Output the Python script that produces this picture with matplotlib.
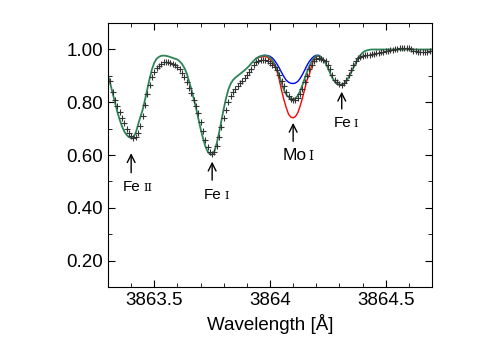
import numpy as np
import matplotlib
matplotlib.use("Agg")
import matplotlib.pyplot as plt
from matplotlib.ticker import MultipleLocator, FuncFormatter

plt.rcParams['font.family'] = ['Liberation Sans', 'DejaVu Sans']

# observed spectrum, 0.01 A steps from 3863.30 to 3864.70
wl_start = 3863.30
obs_flux = [
    0.900, 0.880, 0.840, 0.810, 0.785, 0.765, 0.740, 0.720, 0.700, 0.684,
    0.672, 0.665, 0.668, 0.685, 0.710, 0.747, 0.790, 0.830, 0.865, 0.895,
    0.915, 0.928, 0.938, 0.946, 0.951, 0.953, 0.952, 0.950, 0.946, 0.940,
    0.933, 0.926, 0.912, 0.895, 0.876, 0.855, 0.835, 0.810, 0.785, 0.760,
    0.725, 0.690, 0.658, 0.632, 0.612, 0.605, 0.610, 0.635, 0.670, 0.705,
    0.742, 0.770, 0.800, 0.822, 0.838, 0.852, 0.862, 0.872, 0.882, 0.893,
    0.903, 0.914, 0.926, 0.942, 0.951, 0.957, 0.960, 0.962, 0.960, 0.955,
    0.948, 0.942, 0.933, 0.922, 0.905, 0.880, 0.860, 0.838, 0.822, 0.813,
    0.808, 0.810, 0.818, 0.832, 0.852, 0.875, 0.900, 0.925, 0.943, 0.955,
    0.963, 0.966, 0.964, 0.960, 0.955, 0.942, 0.925, 0.905, 0.886, 0.875,
    0.868, 0.866, 0.872, 0.885, 0.902, 0.922, 0.940, 0.955, 0.966, 0.972,
    0.976, 0.978, 0.979, 0.980, 0.982, 0.984, 0.985, 0.987, 0.989, 0.991,
    0.993, 0.995, 0.997, 0.999, 1.000, 1.002, 1.004, 1.005, 1.006, 1.006,
    1.004, 1.000, 0.996, 0.993, 0.990, 0.990, 0.989, 0.990, 0.991, 0.993,
    0.995,
]

# best fit synthetic spectrum, same grid
fit_flux = [
    0.900, 0.870, 0.835, 0.800, 0.765, 0.735, 0.710, 0.690, 0.677, 0.668,
    0.665, 0.668, 0.685, 0.715, 0.745, 0.772, 0.810, 0.850, 0.890, 0.925,
    0.950, 0.965, 0.972, 0.976, 0.977, 0.976, 0.974, 0.971, 0.968, 0.965,
    0.962, 0.955, 0.945, 0.930, 0.910, 0.880, 0.850, 0.815, 0.780, 0.740,
    0.700, 0.665, 0.635, 0.614, 0.603, 0.602, 0.615, 0.645, 0.685, 0.730,
    0.775, 0.815, 0.848, 0.870, 0.884, 0.893, 0.900, 0.907, 0.914, 0.921,
    0.929, 0.938, 0.948, 0.958, 0.966, 0.971, 0.975, 0.977, 0.977, 0.975,
    0.970, 0.960, 0.945, 0.925, 0.900, 0.872, 0.847, 0.830, 0.820, 0.814,
    0.812, 0.815, 0.825, 0.842, 0.865, 0.890, 0.915, 0.938, 0.955, 0.968,
    0.975, 0.977, 0.972, 0.962, 0.948, 0.930, 0.910, 0.892, 0.878, 0.870,
    0.866, 0.866, 0.870, 0.880, 0.895, 0.912, 0.930, 0.948, 0.965, 0.978,
    0.988, 0.994, 0.997, 0.999, 1.000, 1.000, 1.000, 1.000, 1.000, 1.000,
    1.000, 1.000, 1.000, 1.000, 1.000, 1.000, 1.000, 1.000, 1.000, 1.000,
    1.000, 1.000, 1.000, 1.000, 1.000, 1.000, 1.000, 1.000, 1.000, 1.000,
    1.000,
]

# Mo abundance variations, 3863.94 .. 3864.22
mo_start = 3863.94
mo_low = [
    0.966, 0.971, 0.975, 0.977, 0.978, 0.977, 0.974, 0.968, 0.958, 0.945,
    0.930, 0.913, 0.897, 0.884, 0.876, 0.872, 0.871, 0.873, 0.879, 0.890,
    0.905, 0.922, 0.940, 0.955, 0.966, 0.974, 0.978, 0.978, 0.972,
]
mo_high = [
    0.966, 0.970, 0.972, 0.972, 0.974, 0.970, 0.962, 0.952, 0.938, 0.918,
    0.885, 0.845, 0.810, 0.780, 0.755, 0.744, 0.741, 0.746, 0.760, 0.785,
    0.815, 0.850, 0.885, 0.905, 0.940, 0.962, 0.974, 0.975, 0.970,
]

# line labels: wavelength, arrow tip, arrow tail, label y, element, ion
line_wl = [3863.40, 3863.75, 3864.10, 3864.31]
arrow_tip = [0.607, 0.575, 0.722, 0.840]
arrow_tail = [0.533, 0.505, 0.652, 0.775]
label_y = [0.48, 0.45, 0.60, 0.72]
elements = ["Fe", "Fe", "Mo", "Fe"]
ions = ["II", "I", "I", "I"]

wl = wl_start + 0.01 * np.arange(len(obs_flux))
wl_mo = mo_start + 0.01 * np.arange(len(mo_low))

fig = plt.figure(figsize=(5, 3.5), dpi=100)
ax = fig.add_axes([0.216, 0.18, 0.648, 0.754])

ax.plot(wl_mo, mo_low, color='blue', lw=1)
ax.plot(wl_mo, mo_high, color='red', lw=1)
ax.plot(wl, fit_flux, color='#2e8457', lw=1.3)
ax.plot(wl, obs_flux, ls='none', marker='+', ms=4.5, mew=0.8, color='#333333')

for i in range(len(line_wl)):
    x = line_wl[i]
    big = elements[i] == "Mo"
    ax.annotate('', xy=(x, arrow_tip[i]), xytext=(x, arrow_tail[i]),
                arrowprops=dict(arrowstyle='->', lw=1, color='k',
                                mutation_scale=14, shrinkA=0, shrinkB=0))
    ax.annotate(elements[i], xy=(x, label_y[i]), xytext=(-11 if big else -8, 0),
                textcoords='offset pixels', ha='left', va='center',
                fontsize=12.5 if big else 11)
    ax.annotate(ions[i], xy=(x, label_y[i]), xytext=(15 if big else 12, -1),
                textcoords='offset pixels', ha='left', va='center',
                fontsize=9 if big else 8, family='DejaVu Serif')

ax.set_xlim(3863.3, 3864.7)
ax.set_ylim(0.1, 1.1)
ax.xaxis.set_major_locator(MultipleLocator(0.5))
ax.xaxis.set_minor_locator(MultipleLocator(0.1))
ax.yaxis.set_major_locator(MultipleLocator(0.2))
ax.yaxis.set_minor_locator(MultipleLocator(0.1))
ax.xaxis.set_major_formatter(FuncFormatter(lambda v, p: '{:g}'.format(v)))
ax.yaxis.set_major_formatter(FuncFormatter(lambda v, p: '%.2f' % v))
ax.tick_params(which='both', direction='in', top=True, right=True, labelsize=13.5)
ax.tick_params(which='major', length=5)
ax.tick_params(which='minor', length=3)
ax.set_xlabel('Wavelength [Å]', fontsize=13.5)

fig.savefig('out.png')
